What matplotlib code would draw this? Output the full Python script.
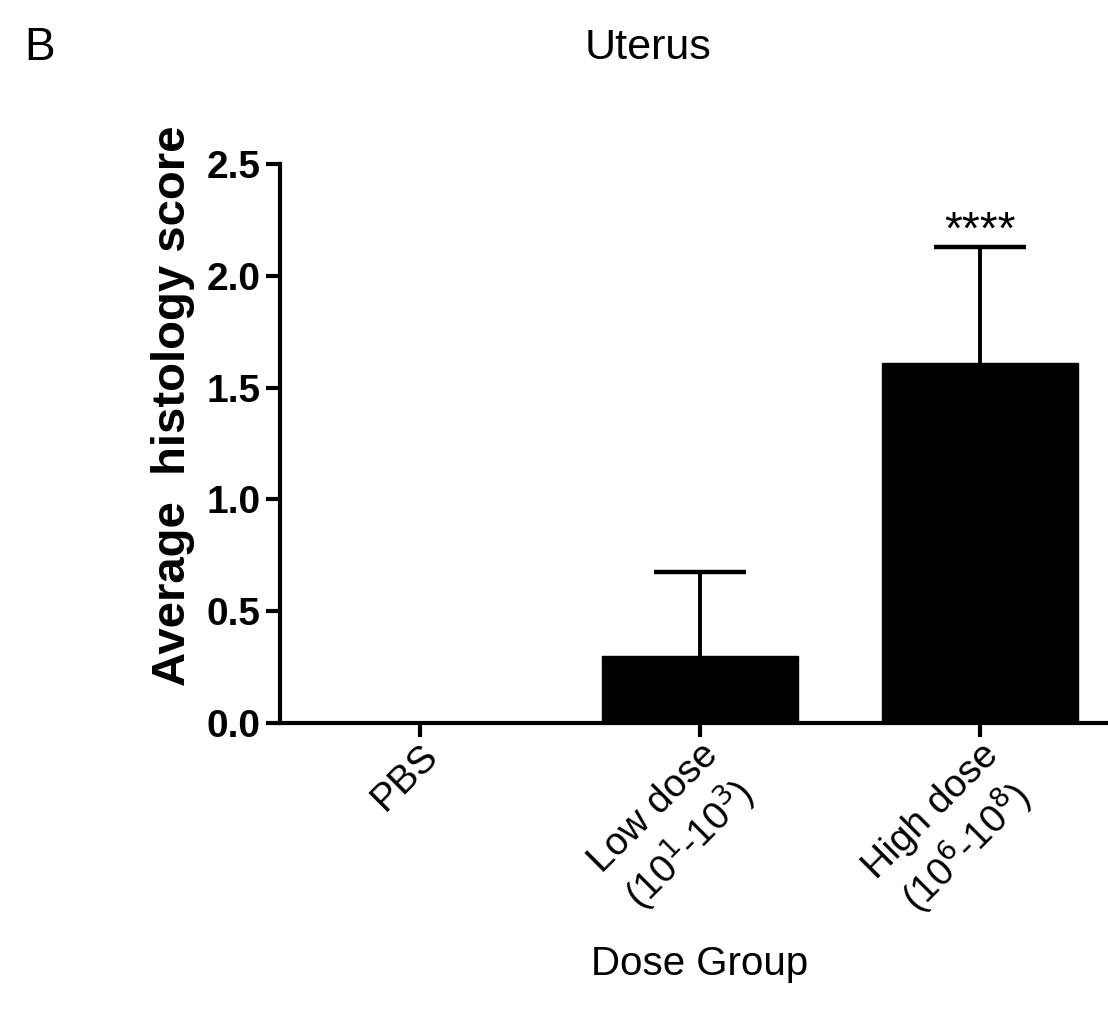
import numpy as np
import matplotlib
matplotlib.use("Agg")
import matplotlib.pyplot as plt

plt.rcParams['font.family'] = ['Liberation Sans', 'DejaVu Sans']

# group means and upper error (SD) for the uterus histology score
groups = ['PBS', 'Low dose\n(10$^{1}$-10$^{3}$)', 'High dose\n(10$^{6}$-10$^{8}$)']
means = [0.0, 0.30, 1.61]
errors = [0.0, 0.375, 0.52]
signif = ['', '', '****']

fig = plt.figure(figsize=(11.08, 10.09), dpi=100)
ax = fig.add_axes([0.2527, 0.2834, 0.758, 0.554])

x = np.arange(len(groups))
ax.bar(x, means, width=0.7, color='black', edgecolor='black', zorder=2)

# upper-only error bars (hide the lower cap sitting on the bar top)
for xi, m, e in zip(x, means, errors):
    if e > 0:
        _, caps, _ = ax.errorbar(xi, m, yerr=[[0], [e]], fmt='none', ecolor='black',
                                 elinewidth=2.8, capsize=33, capthick=3.2, zorder=3)
        caps[0].set_visible(False)

for xi, m, e, s in zip(x, means, errors, signif):
    if s:
        ax.text(xi, m + e - 0.03, s, ha='center', va='bottom', fontsize=33)

ax.set_xlim(-0.5, 2.5)
ax.set_ylim(0, 2.5)
ax.set_yticks([0, 0.5, 1.0, 1.5, 2.0, 2.5])
ax.set_yticklabels(['0.0', '0.5', '1.0', '1.5', '2.0', '2.5'],
                   fontsize=28, fontweight='bold')
ax.set_xticks(x)
ax.set_xticklabels(groups, fontsize=28, rotation=45, ha='right',
                   rotation_mode='anchor', multialignment='center')

for side in ['top', 'right']:
    ax.spines[side].set_visible(False)
for side in ['left', 'bottom']:
    ax.spines[side].set_linewidth(3)
ax.tick_params(axis='both', width=3, length=10, direction='out')
ax.tick_params(axis='x', pad=0)
ax.tick_params(axis='y', pad=4)

ax.set_ylabel('Average  histology score', fontsize=34, fontweight='bold')
ax.yaxis.set_label_coords(-0.101, 0.568)
ax.set_xlabel('Dose Group', fontsize=29, labelpad=14)

fig.text(0.585, 0.952, 'Uterus', fontsize=31, ha='center', va='center')
fig.text(0.022, 0.952, 'B', fontsize=33, ha='left', va='center')

fig.savefig('out.png', dpi=100)
